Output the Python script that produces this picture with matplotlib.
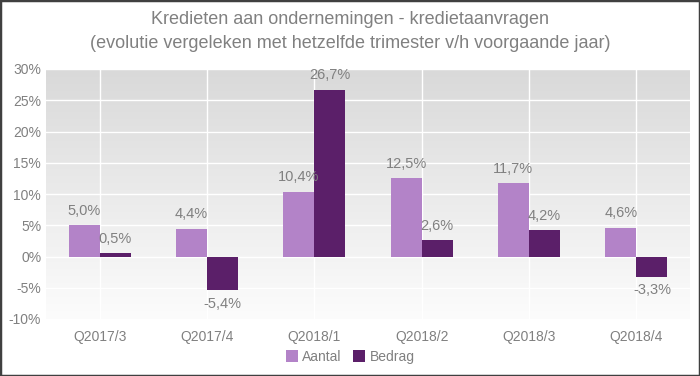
import numpy as np
import matplotlib
matplotlib.use("Agg")
import matplotlib.pyplot as plt
from matplotlib.patches import Rectangle

categories = ["Q2017/3", "Q2017/4", "Q2018/1", "Q2018/2", "Q2018/3", "Q2018/4"]
aantal = [5.0, 4.4, 10.4, 12.5, 11.7, 4.6]
bedrag = [0.5, -5.4, 26.7, 2.6, 4.2, -3.3]
series_names = ["Aantal", "Bedrag"]

plt.rcParams["font.family"] = ["Liberation Sans", "DejaVu Sans"]
GREY = "#808080"
C_AANTAL = "#b383c8"
C_BEDRAG = "#5b1f69"

fig = plt.figure(figsize=(7, 3.76), dpi=100)
ax = fig.add_axes([46 / 700, 1 - 319 / 376, (690 - 46) / 700, (319 - 69) / 376])

x = np.arange(len(categories))
w = 0.29
ax.set_xlim(-0.5, len(categories) - 0.5)
ax.set_ylim(-10, 30)

# gradient background
grad = np.linspace(0, 1, 256).reshape(-1, 1)
ax.imshow(grad, extent=[-0.5, len(categories) - 0.5, -10, 30], aspect="auto",
          cmap=matplotlib.colors.LinearSegmentedColormap.from_list("g", ["#fcfcfc", "#d9d9d9"]),
          origin="lower", zorder=0)

ax.bar(x - w / 2, aantal, w, color=C_AANTAL, label=series_names[0], zorder=3)
ax.bar(x + w / 2, bedrag, w, color=C_BEDRAG, label=series_names[1], zorder=3)

def fmt(v):
    return f"{v:.1f}%".replace(".", ",")

for offs, vals in ((-w / 2, aantal), (w / 2, bedrag)):
    for xi, v in zip(x + offs, vals):
        ax.annotate(fmt(v), (xi, v), xytext=(0, 5.5 if v >= 0 else -4.5),
                    textcoords="offset points", ha="center",
                    va="bottom" if v >= 0 else "top", color=GREY, fontsize=10.5)

ax.set_yticks(range(-10, 31, 5))
ax.set_yticklabels([f"{t}%" for t in range(-10, 31, 5)])
ax.set_xticks(x)
ax.set_xticklabels(categories)
ax.tick_params(length=0, colors=GREY, labelsize=10)
ax.tick_params(axis="x", pad=8)
ax.grid(True, color="white", linewidth=1, zorder=1)
ax.set_axisbelow(True)
for s in ax.spines.values():
    s.set_visible(False)

fig.text(0.5, 1 - 20 / 376, "Kredieten aan ondernemingen - kredietaanvragen",
         ha="center", va="center", color=GREY, fontsize=13)
fig.text(0.5, 1 - 44 / 376, "(evolutie vergeleken met hetzelfde trimester v/h voorgaande jaar)",
         ha="center", va="center", color=GREY, fontsize=13)

leg = fig.legend(loc="center", bbox_to_anchor=(0.5, 1 - 357 / 376), ncol=2, frameon=False,
                 fontsize=10, handlelength=0.9, handleheight=0.9, handletextpad=0.3,
                 columnspacing=0.8)
for t in leg.get_texts():
    t.set_color(GREY)

fig.patches.append(Rectangle((0, 0), 1, 1, transform=fig.transFigure, fill=False,
                             edgecolor="#404040", linewidth=2.5))

fig.savefig("out.png", dpi=100)
